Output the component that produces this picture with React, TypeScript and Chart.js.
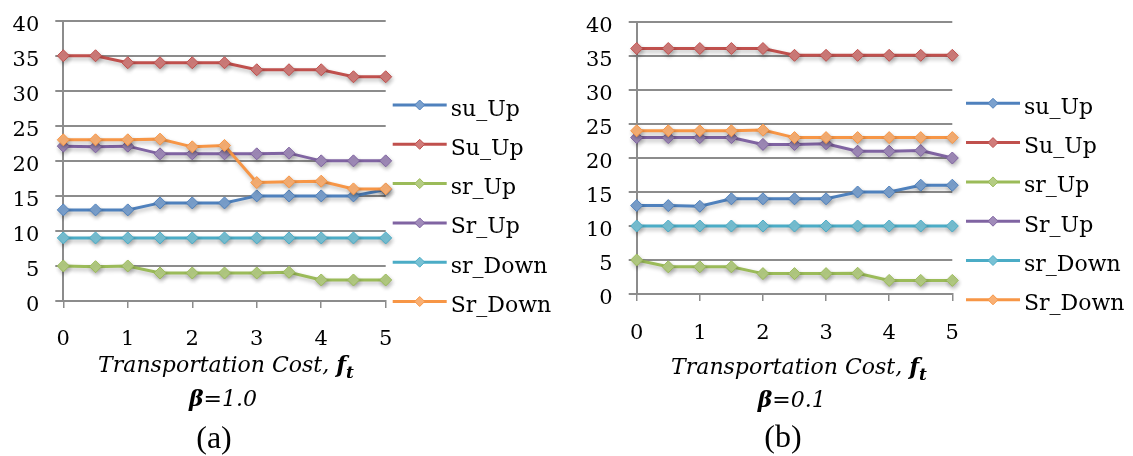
import { useEffect, useRef } from "react";
import { Chart, registerables } from "chart.js";

Chart.register(...registerables);

// ---------- data ----------
const xValues = [0, 0.5, 1, 1.5, 2, 2.5, 3, 3.5, 4, 4.5, 5];
const xTickValues = [0, 1, 2, 3, 4, 5];
const yTickValues = [0, 5, 10, 15, 20, 25, 30, 35, 40];
const seriesNames = ["su_Up", "Su_Up", "sr_Up", "Sr_Up", "sr_Down", "Sr_Down"];
const seriesColors = ["#4F81BD", "#C0504D", "#9BBB59", "#8064A2", "#4BACC6", "#F79646"];

// panel (a), beta = 1.0
const aSuUpLower = [13, 13, 13, 14, 14, 14, 15, 15, 15, 15, 15.9];
const aSuUpUpper = [35, 35, 34, 34, 34, 34, 33, 33, 33, 32, 32];
const aSrUpLower = [5, 4.9, 5, 4, 4, 4, 4, 4.1, 3, 3, 3];
const aSrUpUpper = [22.1, 22, 22.1, 21, 21, 21, 21, 21.1, 20, 20, 20];
const aSrDownLower = [9, 9, 9, 9, 9, 9, 9, 9, 9, 9, 9];
const aSrDownUpper = [23, 23, 23, 23.1, 22, 22.2, 16.9, 17, 17.1, 16, 16];

// panel (b), beta = 0.1
const bSuUpLower = [13, 13, 12.9, 14, 14, 14, 14, 15, 15, 16, 16];
const bSuUpUpper = [36.1, 36.1, 36.1, 36.1, 36.1, 35.1, 35.1, 35.1, 35.1, 35.1, 35.1];
const bSrUpLower = [5, 4, 4, 4, 3, 3, 3, 3.05, 2, 2, 2];
const bSrUpUpper = [23, 23, 23, 23, 22, 22, 22.1, 21, 21, 21.1, 20];
const bSrDownLower = [10, 10, 10, 10, 10, 10, 10, 10, 10, 10, 10];
const bSrDownUpper = [24, 24, 24, 24, 24.1, 23, 23, 23, 23, 23, 23];

const axisTitle = "Transportation Cost, ";
const axisTitleVar = "f";
const axisTitleSub = "t";
const betaSymbol = "β";
const betaA = "=1.0";
const betaB = "=0.1";
const captionA = "(a)";
const captionB = "(b)";

// ---------- styling ----------
const FONT = "'DejaVu Serif'";
const GRID = "#8c8c8c";

function tint(hex: string, amt: number) {
  const n = parseInt(hex.slice(1), 16);
  const r = (n >> 16) & 255, g = (n >> 8) & 255, b = n & 255;
  const m = (c: number) => Math.round(c + (255 - c) * amt);
  return `rgb(${m(r)},${m(g)},${m(b)})`;
}

interface PanelCfg {
  series: number[][];
  beta: string;
  caption: string;
  canvasLeft: number;
  canvasWidth: number;
  yAxisWidth: number;
  padTop: number;
  padRight: number;
  padBottom: number;
  xTickPad: number;
  legendX: number;
  legendY0: number;
  legendStep: number;
  titleBase: number;
  betaBase: number;
  captionBase: number;
  titleDx: number;
  betaDx: number;
  captionDx: number;
}

const panelA: PanelCfg = {
  series: [aSuUpLower, aSuUpUpper, aSrUpLower, aSrUpUpper, aSrDownLower, aSrDownUpper],
  beta: betaA,
  caption: captionA,
  canvasLeft: 0,
  canvasWidth: 566,
  yAxisWidth: 63.3,
  padTop: 20.7,
  padRight: 180.3,
  padBottom: 105,
  xTickPad: 18.5,
  legendX: 392.7,
  legendY0: 105,
  legendStep: 39.3,
  titleBase: 371.7,
  betaBase: 406,
  captionBase: 448,
  titleDx: 1.5,
  betaDx: -1.5,
  captionDx: -10.5,
};

const panelB: PanelCfg = {
  series: [bSuUpLower, bSuUpUpper, bSrUpLower, bSrUpUpper, bSrDownLower, bSrDownUpper],
  beta: betaB,
  caption: captionB,
  canvasLeft: 573,
  canvasWidth: 560,
  yAxisWidth: 63.7,
  padTop: 22,
  padRight: 180.7,
  padBottom: 112,
  xTickPad: 19.5,
  legendX: 393,
  legendY0: 103.3,
  legendStep: 39.3,
  titleBase: 374,
  betaBase: 406.7,
  captionBase: 447,
  titleDx: 4.5,
  betaDx: -2.8,
  captionDx: -11.5,
};

const shadowPlugin = {
  id: "lineShadow",
  beforeDatasetDraw(chart: any) {
    const ctx = chart.ctx;
    ctx.save();
    ctx.shadowColor = "rgba(0,0,0,0.28)";
    ctx.shadowBlur = 4;
    ctx.shadowOffsetX = 1;
    ctx.shadowOffsetY = 2.5;
  },
  afterDatasetDraw(chart: any) {
    chart.ctx.restore();
  },
};

type Run = { text: string; font: string; dy?: number };

function drawRuns(ctx: CanvasRenderingContext2D, runs: Run[], cx: number, base: number) {
  let total = 0;
  const widths = runs.map((r) => {
    ctx.font = r.font;
    const w = ctx.measureText(r.text).width;
    total += w;
    return w;
  });
  let x = cx - total / 2;
  runs.forEach((r, i) => {
    ctx.font = r.font;
    ctx.fillText(r.text, x, base + (r.dy || 0));
    x += widths[i];
  });
}

function makeTextPlugin(cfg: PanelCfg) {
  return {
    id: "panelText",
    afterDraw(chart: any) {
      const ctx: CanvasRenderingContext2D = chart.ctx;
      const area = chart.chartArea;
      const ys = chart.scales.y;
      ctx.save();
      ctx.fillStyle = "#000";
      // y tick labels
      ctx.font = `21px ${FONT}`;
      ctx.textAlign = "right";
      ctx.textBaseline = "alphabetic";
      for (const v of yTickValues) {
        ctx.fillText(String(v), area.left - 8 - 16, ys.getPixelForValue(v) + 10);
      }
      // axis title & sub-lines
      ctx.textAlign = "left";
      const cx = (area.left + area.right) / 2;
      drawRuns(
        ctx,
        [
          { text: axisTitle, font: `italic 22px ${FONT}` },
          { text: axisTitleVar, font: `italic bold 23px ${FONT}` },
          { text: axisTitleSub, font: `italic bold 17px ${FONT}`, dy: 6 },
        ],
        cx + cfg.titleDx,
        cfg.titleBase
      );
      drawRuns(
        ctx,
        [
          { text: betaSymbol, font: `italic bold 22px ${FONT}` },
          { text: cfg.beta, font: `italic 22px ${FONT}` },
        ],
        cx + cfg.betaDx,
        cfg.betaBase
      );
      drawRuns(ctx, [{ text: cfg.caption, font: `32px 'Liberation Serif'` }], cx + cfg.captionDx, cfg.captionBase);

      // legend
      chart.data.datasets.forEach((ds: any, i: number) => {
        const y = cfg.legendY0 + i * cfg.legendStep;
        const x1 = cfg.legendX;
        const x2 = x1 + 54;
        ctx.strokeStyle = ds.borderColor;
        ctx.lineWidth = 3;
        ctx.beginPath();
        ctx.moveTo(x1, y);
        ctx.lineTo(x2, y);
        ctx.stroke();
        const mx = (x1 + x2) / 2;
        const r = 5;
        ctx.beginPath();
        ctx.moveTo(mx - r, y);
        ctx.lineTo(mx, y - r);
        ctx.lineTo(mx + r, y);
        ctx.lineTo(mx, y + r);
        ctx.closePath();
        ctx.fillStyle = ds.pointBackgroundColor;
        ctx.fill();
        ctx.lineWidth = 1;
        ctx.strokeStyle = ds.borderColor;
        ctx.stroke();
        ctx.fillStyle = "#000";
        ctx.font = `22px ${FONT}`;
        ctx.textAlign = "left";
        ctx.fillText(ds.label, x2 + 4, y + 10.5);
      });
      ctx.restore();
    },
  };
}

function buildConfig(cfg: PanelCfg): any {
  return {
    type: "line",
    data: {
      datasets: seriesNames.map((name, i) => ({
        label: name,
        data: xValues.map((x, j) => ({ x, y: cfg.series[i][j] })),
        borderColor: seriesColors[i],
        backgroundColor: seriesColors[i],
        pointBackgroundColor: tint(seriesColors[i], 0.25),
        pointBorderColor: seriesColors[i],
        pointBorderWidth: 1,
        borderWidth: 3,
        pointRadius: 6,
        pointHoverRadius: 6,
        pointStyle: "rectRot",
        tension: 0,
        fill: false,
        order: seriesNames.length - i,
        clip: false,
      })),
    },
    options: {
      responsive: false,
      animation: false,
      devicePixelRatio: 1,
      events: [],
      layout: {
        padding: { left: 0, top: cfg.padTop, right: cfg.padRight, bottom: cfg.padBottom },
      },
      plugins: {
        legend: { display: false },
        tooltip: { enabled: false },
        title: { display: false },
      },
      scales: {
        x: {
          type: "linear",
          min: 0,
          max: 5,
          afterBuildTicks: (s: any) => {
            s.ticks = xTickValues.map((v) => ({ value: v }));
          },
          afterFit: (s: any) => {
            s.height = 50;
          },
          ticks: {
            font: { family: FONT, size: 21 },
            color: "#000",
            padding: cfg.xTickPad,
            autoSkip: false,
            maxRotation: 0,
            callback: (v: any) => String(v),
          },
          grid: { drawOnChartArea: false, drawTicks: true, tickLength: 7, color: GRID, lineWidth: 1.5 },
          border: { display: true, color: GRID, width: 2 },
        },
        y: {
          type: "linear",
          min: 0,
          max: 40,
          afterBuildTicks: (s: any) => {
            s.ticks = yTickValues.map((v) => ({ value: v }));
          },
          afterFit: (s: any) => {
            s.width = cfg.yAxisWidth;
            s.paddingTop = 0;
            s.paddingBottom = 0;
          },
          ticks: { display: false },
          grid: { color: GRID, lineWidth: 2, tickLength: 8, drawTicks: true },
          border: { display: true, color: GRID, width: 2 },
        },
      },
    },
    plugins: [shadowPlugin, makeTextPlugin(cfg)],
  };
}

function Panel({ cfg }: { cfg: PanelCfg }) {
  const ref = useRef<HTMLCanvasElement>(null);
  useEffect(() => {
    const chart = new Chart(ref.current as HTMLCanvasElement, buildConfig(cfg));
    return () => chart.destroy();
  }, [cfg]);
  return (
    <canvas
      ref={ref}
      width={cfg.canvasWidth}
      height={456}
      style={{ position: "absolute", left: cfg.canvasLeft, top: 0, width: cfg.canvasWidth, height: 456 }}
    />
  );
}

export default function App() {
  return (
    <div
      style={{
        position: "fixed",
        left: 0,
        top: 0,
        width: 1133,
        height: 456,
        background: "#fff",
        overflow: "hidden",
      }}
    >
      <Panel cfg={panelA} />
      <Panel cfg={panelB} />
    </div>
  );
}
